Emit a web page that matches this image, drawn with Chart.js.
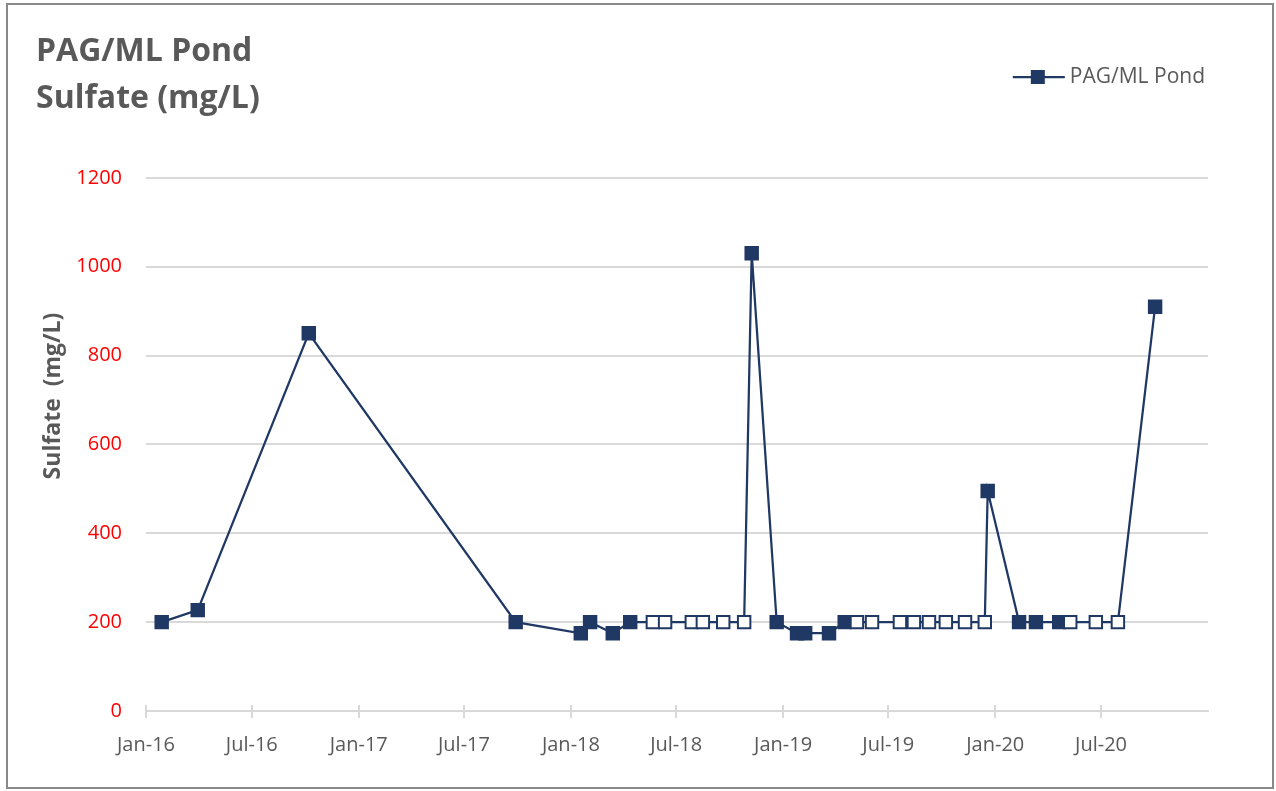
<!DOCTYPE html>
<html>
<head>
<meta charset="utf-8">
<script src="https://cdn.jsdelivr.net/npm/chart.js@4.4.1/dist/chart.umd.min.js"></script>
<style>
    html, body { margin: 0; padding: 0; background: #fff; }
    #wrap { position: relative; width: 1276px; height: 791px; }
    #frame { position: absolute; left: 6px; top: 3px; width: 1264px; height: 782px; border: 2px solid #898989; pointer-events: none; }
    canvas { position: absolute; left: 0; top: 0; }
</style>
</head>
<body>
<div id="wrap">
    <canvas id="sulfateChart" width="1276" height="791"></canvas>
    <div id="frame"></div>
</div>
<script>
// sample dates and sulfate results (mg/L)
const sampleDates = [
    "2016-01-28", "2016-03-30", "2016-10-07", "2017-09-28",
    "2018-01-18", "2018-02-03", "2018-03-14", "2018-04-13",
    "2018-05-22", "2018-06-12", "2018-07-28", "2018-08-16",
    "2018-09-20", "2018-10-26", "2018-11-08", "2018-12-21",
    "2019-01-25", "2019-02-08", "2019-03-21", "2019-04-17",
    "2019-05-08", "2019-06-03", "2019-07-21", "2019-08-14",
    "2019-09-09", "2019-10-08", "2019-11-10", "2019-12-14",
    "2019-12-19", "2020-02-11", "2020-03-11", "2020-04-20",
    "2020-05-09", "2020-06-22", "2020-07-30", "2020-10-02",
];
const sulfate = [
    200, 227, 850, 200,
    175, 200, 175, 200,
    200, 200, 200, 200,
    200, 200, 1030, 200,
    175, 175, 175, 200,
    200, 200, 200, 200,
    200, 200, 200, 200,
    495, 200, 200, 200,
    200, 200, 200, 910,
];
// open (hollow) markers
const openPoint = [
    0, 0, 0, 0,
    0, 0, 0, 0,
    1, 1, 1, 1,
    1, 1, 0, 0,
    0, 0, 0, 0,
    1, 1, 1, 1,
    1, 1, 1, 1,
    0, 0, 0, 0,
    1, 1, 1, 0,
];

const tickDates = [
    "2016-01-01", "2016-07-01", "2017-01-01", "2017-07-01", "2018-01-01",
    "2018-07-01", "2019-01-01", "2019-07-01", "2020-01-01", "2020-07-01",
];
const tickLabels = [
    "Jan-16", "Jul-16", "Jan-17", "Jul-17", "Jan-18",
    "Jul-18", "Jan-19", "Jul-19", "Jan-20", "Jul-20",
];
const axisStart = "2016-01-01";
const axisEnd = "2021-01-01";
const yTicks = [0, 200, 400, 600, 800, 1000, 1200];

const NAVY = "#203864";
const GREY_TEXT = "#595959";
const GRID = "#d9d9d9";
const FONT = "'Open Sans'";

function dayOf(s) {
    return (Date.parse(s) - Date.parse(axisStart)) / 86400000;
}

// legend (line + square), y axis title and crossing tick marks on the date axis
const extras = {
    id: "extras",
    afterDraw(chart) {
        const ctx = chart.ctx;
        const xs = chart.scales.x;
        ctx.save();
        ctx.strokeStyle = GRID;
        ctx.lineWidth = 2;
        xs.ticks.forEach((t) => {
            const px = Math.round(xs.getPixelForValue(t.value));
            ctx.beginPath();
            ctx.moveTo(px, xs.top - 6);
            ctx.lineTo(px, xs.top);
            ctx.stroke();
        });

        // y axis title, sits a bit above the middle like the original
        ctx.save();
        ctx.translate(53, 396);
        ctx.rotate(-Math.PI / 2);
        ctx.font = "bold 23px " + FONT;
        ctx.fillStyle = GREY_TEXT;
        ctx.textAlign = "center";
        ctx.textBaseline = "middle";
        ctx.fillText("Sulfate  (mg/L)", 0, 0);
        ctx.restore();

        const ds = chart.data.datasets[0];
        ctx.font = "21px " + FONT;
        const w = ctx.measureText(ds.label).width;
        const tx = chart.chartArea.right - 3 - w;
        const ty = 77;
        ctx.fillStyle = GREY_TEXT;
        ctx.textBaseline = "middle";
        ctx.fillText(ds.label, tx, ty);
        ctx.strokeStyle = NAVY;
        ctx.lineWidth = 2.25;
        ctx.beginPath();
        ctx.moveTo(tx - 57, ty);
        ctx.lineTo(tx - 5, ty);
        ctx.stroke();
        ctx.fillStyle = NAVY;
        ctx.fillRect(tx - 39, ty - 7, 14, 14);
        ctx.restore();
    },
};

const points = sampleDates.map((d, i) => ({ x: dayOf(d), y: sulfate[i] }));

new Chart(document.getElementById("sulfateChart"), {
    type: "line",
    data: {
        datasets: [
            {
                label: "PAG/ML Pond",
                data: points,
                borderColor: NAVY,
                borderWidth: 2.25,
                pointStyle: "rect",
                pointRadius: 8.8,
                pointHoverRadius: 8.8,
                pointBorderWidth: 2,
                pointBorderColor: NAVY,
                pointBackgroundColor: openPoint.map((o) => (o ? "#ffffff" : NAVY)),
                tension: 0,
            },
        ],
    },
    options: {
        responsive: false,
        animation: false,
        layout: { padding: { left: 36, right: 68, top: 0, bottom: 0 } },
        plugins: {
            legend: { display: false },
            tooltip: { enabled: false },
            title: {
                display: true,
                text: ["PAG/ML Pond", "Sulfate (mg/L)"],
                align: "start",
                color: GREY_TEXT,
                font: { family: FONT, size: 32, weight: "bold", lineHeight: 1.45 },
                padding: { top: 29, bottom: 56 },
            },
        },
        scales: {
            x: {
                type: "linear",
                min: dayOf(axisStart),
                max: dayOf(axisEnd),
                afterFit: (s) => { s.height = 80; },
                afterBuildTicks: (s) => {
                    s.ticks = tickDates.map((d) => ({ value: dayOf(d) }));
                },
                ticks: {
                    color: GREY_TEXT,
                    font: { family: FONT, size: 20 },
                    padding: 15,
                    maxRotation: 0,
                    autoSkip: false,
                    callback: (v, i) => tickLabels[i],
                },
                grid: { display: true, drawOnChartArea: false, drawTicks: true, tickLength: 7, color: GRID, lineWidth: 2 },
                border: { display: true, color: GRID, width: 2 },
            },
            y: {
                min: 0,
                max: 1200,
                afterFit: (s) => { s.width = 110; },
                afterBuildTicks: (s) => {
                    s.ticks = yTicks.map((v) => ({ value: v }));
                },
                ticks: {
                    color: "#ff0000",
                    font: { family: FONT, size: 20 },
                    padding: 24,
                    callback: (v) => String(v),
                },
                grid: { color: GRID, lineWidth: 2, drawTicks: false },
                border: { display: false },
            },
        },
    },
    plugins: [extras],
});
</script>
</body>
</html>
